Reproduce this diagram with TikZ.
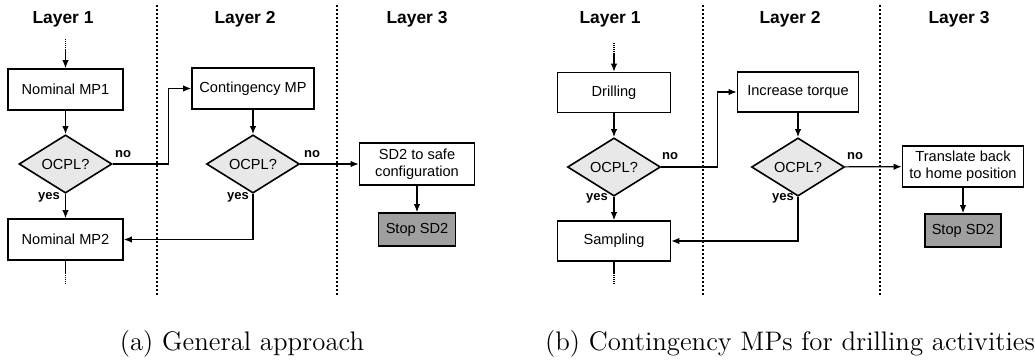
\documentclass[tikz,border=0pt]{standalone}
\usepackage{fontspec}
\setsansfont{Liberation Sans}
\usetikzlibrary{shapes.geometric,arrows.meta}

\tikzset{
  process/.style={draw,line width=0.8pt,rectangle,minimum height=20.5pt,inner sep=1pt,align=center,font=\sffamily\fontsize{7.3}{8.5}\selectfont},
  decision/.style={draw,line width=0.8pt,diamond,fill=gray!18,inner sep=0pt,minimum width=46.5pt,minimum height=25.5pt,font=\sffamily\fontsize{7.3}{8.5}\selectfont},
  stopbox/.style={process,fill=gray!75,minimum height=16.5pt},
  layer/.style={font=\sffamily\bfseries\fontsize{8.7}{10}\selectfont},
  branch/.style={font=\sffamily\bfseries\fontsize{6.5}{8}\selectfont},
  caption/.style={font=\fontsize{13.4}{16}\selectfont},
  flow/.style={line width=0.6pt,-{Latex[length=4pt,width=3.2pt]}},
  lane/.style={line width=0.6pt,dash pattern=on 1pt off 1pt},
  loose/.style={line width=0.6pt,dash pattern=on 0.5pt off 0.5pt},
}

\begin{document}
\begin{tikzpicture}[x=0.5pt,y=-0.5pt]
  \useasboundingbox (0,0) rectangle (1035,360);

  % (a) general approach
  \node[layer] (al1) at (63,19) {Layer 1};
  \node[layer] (al2) at (245,19) {Layer 2};
  \node[layer] (al3) at (417,19) {Layer 3};
  \draw[lane] (157,5) -- (157,295);
  \draw[lane] (337,5) -- (337,295);

  \node[process,minimum width=57.5pt] (mp1) at (65.5,89.5) {Nominal MP1};
  \node[decision] (ad1) at (65.5,164) {OCPL?};
  \node[process,minimum width=57.5pt] (mp2) at (65.5,239.5) {Nominal MP2};
  \node[process,minimum width=61pt] (cont) at (253,88.5) {Contingency MP};
  \node[decision] (ad2) at (253,164) {OCPL?};
  \node[process,minimum width=57.5pt,minimum height=21pt] (safe) at (417,164) {SD2 to safe\\configuration};
  \node[stopbox,minimum width=38.5pt] (astop) at (417,229.5) {Stop SD2};

  \node[branch] (ano1) at (123,154) {no};
  \node[branch] (ayes1) at (49,197) {yes};
  \node[branch] (ano2) at (312,154) {no};
  \node[branch] (ayes2) at (238,197) {yes};

  \coordinate (ain) at (65.5,39);
  \coordinate (ain2) at (65.5,50);
  \coordinate (aout) at (65.5,273);
  \coordinate (aout2) at (65.5,285);
  \draw[loose] (ain) -- (ain2);
  \draw[flow] (ain2) -- (mp1);
  \draw[flow] (mp1) -- (ad1);
  \draw[flow] (ad1) -- (mp2);
  \draw[flow] (ad1.east) -- ++(56,0) |- (cont.west);
  \draw[flow] (cont) -- (ad2);
  \draw[flow] (ad2.south) |- (mp2.east);
  \draw[flow] (ad2) -- (safe);
  \draw[flow] (safe) -- (astop);
  \draw[line width=0.6pt] (mp2) -- (aout);
  \draw[loose] (aout) -- (aout2);

  \node[caption] (capa) at (242,344) {(a)\ General approach};

  % (b) drilling activities
  \node[layer] (bl1) at (610,19) {Layer 1};
  \node[layer] (bl2) at (790,19) {Layer 2};
  \node[layer] (bl3) at (959,19) {Layer 3};
  \draw[lane] (703,5) -- (703,295);
  \draw[lane] (880,5) -- (880,295);

  \node[process,minimum width=56.5pt,minimum height=20pt] (drill) at (614,92.5) {Drilling};
  \node[decision] (bd1) at (614,167) {OCPL?};
  \node[process,minimum width=56.5pt,minimum height=20pt] (samp) at (614,241) {Sampling};
  \node[process,minimum width=60.5pt,minimum height=20pt] (torque) at (798,92) {Increase torque};
  \node[decision] (bd2) at (798,167) {OCPL?};
  \node[process,minimum width=60.5pt] (home) at (963,166.5) {Translate back\\to home position};
  \node[stopbox,minimum width=38pt] (bstop) at (963,230.5) {Stop SD2};

  \node[branch] (bno1) at (670,156) {no};
  \node[branch] (byes1) at (597,198) {yes};
  \node[branch] (bno2) at (855,156) {no};
  \node[branch] (byes2) at (783,198) {yes};

  \coordinate (bin) at (614,43);
  \coordinate (bin2) at (614,54);
  \coordinate (bout) at (614,273);
  \coordinate (bout2) at (614,285);
  \draw[loose] (bin) -- (bin2);
  \draw[flow] (bin2) -- (drill);
  \draw[flow] (drill) -- (bd1);
  \draw[flow] (bd1) -- (samp);
  \draw[flow] (bd1.east) -- ++(56,0) |- (torque.west);
  \draw[flow] (torque) -- (bd2);
  \draw[flow] (bd2.south) |- (samp.east);
  \draw[flow] (bd2) -- (home);
  \draw[flow] (home) -- (bstop);
  \draw[line width=0.6pt] (samp) -- (bout);
  \draw[loose] (bout) -- (bout2);

  \node[caption] (capb) at (790,344) {(b)\ Contingency MPs for drilling activities};
\end{tikzpicture}
\end{document}
